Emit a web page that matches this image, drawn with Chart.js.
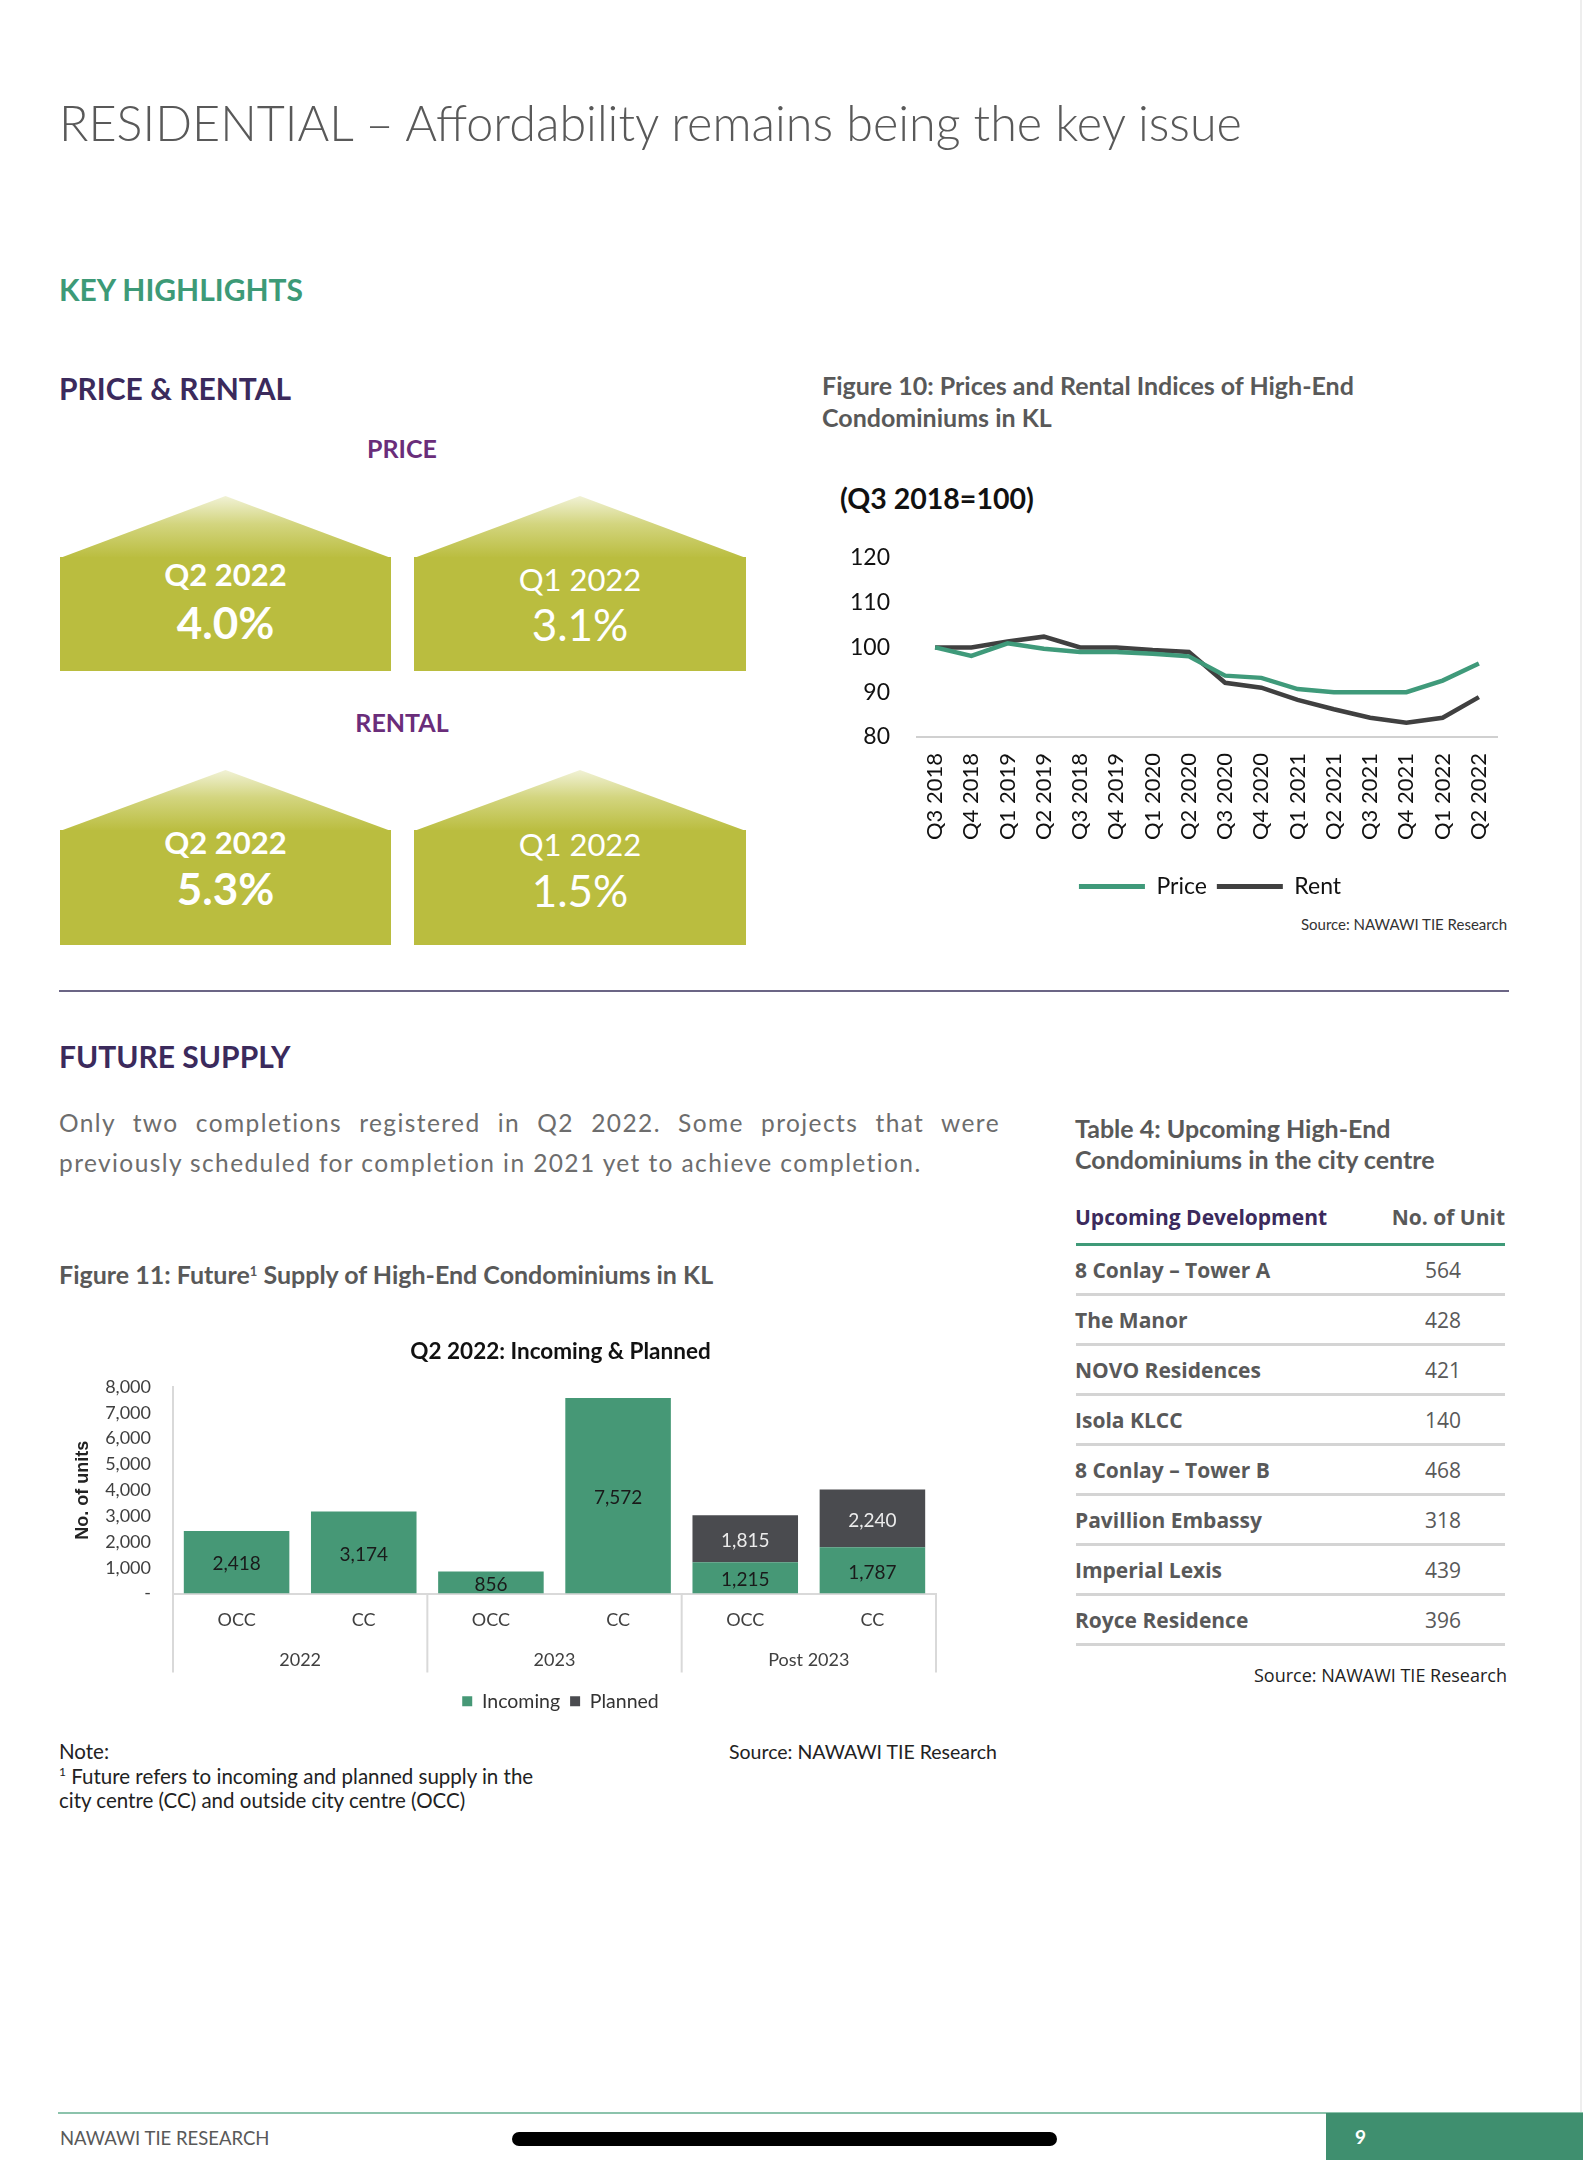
<!DOCTYPE html>
<html>
<head>
<meta charset="utf-8">
<script src="https://cdn.jsdelivr.net/npm/chart.js@4.4.0/dist/chart.umd.min.js"></script>
<style>
  html, body { margin: 0; padding: 0; background: #fff; }
  body { width: 1583px; height: 2160px; position: relative; overflow: hidden; font-family: Lato, "Open Sans", sans-serif; }
  .t { position: absolute; white-space: nowrap; line-height: 1.2; }
  .b { font-weight: bold; }
  .purple { color: #3b2a5c; }
  .grey { color: #595959; }
  .roof { position: absolute; clip-path: polygon(50% 0, 100% 100%, 0 100%);
          background: linear-gradient(to bottom, #f1f2d6 0%, #d3d57f 45%, #babd3f 100%); }
  .body { position: absolute; background: #babd3f; }
  .ht { position: absolute; text-align: center; color: #fff; line-height: 1.2; white-space: nowrap; }
  .tb { position: absolute; font-family: "Open Sans", sans-serif; font-size: 21px; line-height: 1.2; white-space: nowrap; color: #595959; }
  .rule { position: absolute; }
  .sup { position: relative; top: -8px; line-height: 0; }
  canvas { position: absolute; }
</style>
</head>
<body>

<div class="t grey" style="left:59px; top:93px; font-size:48.5px; font-weight:300;">RESIDENTIAL – Affordability remains being the key issue</div>
<div class="t b" style="left:59px; top:271px; font-size:30px; color:#3d9a77;">KEY HIGHLIGHTS</div>
<div class="t b purple" style="left:59px; top:370px; font-size:30px;">PRICE &amp; RENTAL</div>

<div class="t b" style="left:302px; width:200px; text-align:center; top:433px; font-size:25px; color:#6a2d7a;">PRICE</div>
<div class="t b" style="left:302px; width:200px; text-align:center; top:707px; font-size:25px; color:#6a2d7a;">RENTAL</div>

<!-- houses -->
<div class="roof" style="left:60px; top:496px; width:331px; height:62px;"></div>
<div class="body" style="left:60px; top:557px; width:331px; height:114px;"></div>
<div class="roof" style="left:414px; top:496px; width:332px; height:62px;"></div>
<div class="body" style="left:414px; top:557px; width:332px; height:114px;"></div>
<div class="roof" style="left:60px; top:770px; width:331px; height:61px;"></div>
<div class="body" style="left:60px; top:830px; width:331px; height:115px;"></div>
<div class="roof" style="left:414px; top:770px; width:332px; height:61px;"></div>
<div class="body" style="left:414px; top:830px; width:332px; height:115px;"></div>

<div class="ht b" style="left:60px; width:331px; top:556px; font-size:31px;">Q2 2022</div>
<div class="ht b" style="left:60px; width:331px; top:596px; font-size:44px;">4.0%</div>
<div class="ht" style="left:414px; width:332px; top:561px; font-size:31px;">Q1 2022</div>
<div class="ht" style="left:414px; width:332px; top:598px; font-size:44px;">3.1%</div>
<div class="ht b" style="left:60px; width:331px; top:824px; font-size:31px;">Q2 2022</div>
<div class="ht b" style="left:60px; width:331px; top:862px; font-size:44px;">5.3%</div>
<div class="ht" style="left:414px; width:332px; top:826px; font-size:31px;">Q1 2022</div>
<div class="ht" style="left:414px; width:332px; top:864px; font-size:44px;">1.5%</div>

<!-- figure 10 -->
<div class="t b grey" style="left:822px; top:369px; font-size:25px; line-height:32px;">Figure 10: Prices and Rental Indices of High-End<br>Condominiums in KL</div>
<div class="t b" style="left:840px; top:481px; font-size:28.5px; color:#111;">(Q3 2018=100)</div>
<canvas id="lineChart" width="740" height="391" style="left:840px; top:517px; width:740px; height:391px;"></canvas>
<div class="t" style="right:76px; top:915px; font-size:15px; color:#333;">Source: NAWAWI TIE Research</div>

<div class="rule" style="left:59px; top:990px; width:1450px; height:2px; background:#6b6585;"></div>

<!-- future supply -->
<div class="t b purple" style="left:59px; top:1038px; font-size:30px;">FUTURE SUPPLY</div>
<div class="t" style="left:59px; top:1103px; width:941px; font-size:24.5px; line-height:40px; letter-spacing:1.4px; color:#6d6d6d; text-align:justify; text-align-last:justify; white-space:normal;">Only two completions registered in Q2 2022. Some projects that were</div>
<div class="t" style="left:59px; top:1143px; font-size:24.5px; line-height:40px; letter-spacing:1.4px; color:#6d6d6d;">previously scheduled for completion in 2021 yet to achieve completion.</div>

<div class="t b grey" style="left:1075px; top:1113px; font-size:25px; line-height:31px;">Table 4: Upcoming High-End<br>Condominiums in the city centre</div>
<div class="t b grey" style="left:59px; top:1259px; font-size:25px;">Figure 11: Future<span class="sup" style="font-size:13px;">1</span> Supply of High-End Condominiums in KL</div>

<!-- table -->
<div id="table"></div>
<div class="tb" style="right:76px; top:1665px; font-size:18px; color:#222;">Source: NAWAWI TIE Research</div>

<!-- figure 11 -->
<canvas id="barChart" width="983" height="383" style="left:69px; top:1338px; width:983px; height:383px;"></canvas>

<div class="t" style="left:59px; top:1739px; font-size:20.5px; color:#222; line-height:24.5px;">Note:<br><span class="sup" style="font-size:12px;">1</span> Future refers to incoming and planned supply in the<br>city centre (CC) and outside city centre (OCC)</div>
<div class="t" style="left:729px; top:1740px; font-size:19.5px; color:#222;">Source: NAWAWI TIE Research</div>

<!-- footer -->
<div class="rule" style="left:1580px; top:0; width:2px; height:2112px; background:#eeeeee;"></div>
<div class="rule" style="left:58px; top:2112px; width:1525px; height:2px; background:#8cc3ac;"></div>
<div class="rule" style="left:1326px; top:2113px; width:257px; height:47px; background:#3f8f6f;"></div>
<div class="t b" style="left:1355px; top:2126px; font-size:19px; color:#fff;">9</div>
<div class="t grey" style="left:60px; top:2127px; font-size:18.5px;">NAWAWI TIE RESEARCH</div>
<div class="rule" style="left:512px; top:2132px; width:545px; height:14px; border-radius:7px; background:#000;"></div>

<script>
// Figure 10 data
const quarters = ['Q3 2018', 'Q4 2018', 'Q1 2019', 'Q2 2019', 'Q3 2018', 'Q4 2019', 'Q1 2020', 'Q2 2020',
                  'Q3 2020', 'Q4 2020', 'Q1 2021', 'Q2 2021', 'Q3 2021', 'Q4 2021', 'Q1 2022', 'Q2 2022'];
const priceIndex = [100, 98.1, 100.9, 99.7, 99.0, 99.0, 98.6, 98.0, 93.7, 93.2, 90.7, 90.0, 90.0, 90.0, 92.6, 96.4];
const rentIndex  = [100, 100, 101.3, 102.4, 100, 100, 99.4, 99.0, 92.1, 91.0, 88.3, 86.2, 84.3, 83.2, 84.3, 88.9];

// Figure 11 data
const supplyLabels = ['OCC', 'CC', 'OCC', 'CC', 'OCC', 'CC'];
const yearGroups = ['2022', '2023', 'Post 2023'];
const incoming = [2418, 3174, 856, 7572, 1215, 1787];
const planned  = [0, 0, 0, 0, 1815, 2240];

// Table 4 data
const developments = ['8 Conlay – Tower A', 'The Manor', 'NOVO Residences', 'Isola KLCC',
                      '8 Conlay – Tower B', 'Pavillion Embassy', 'Imperial Lexis', 'Royce Residence'];
const units = [564, 428, 421, 140, 468, 318, 439, 396];

// table
const table = document.getElementById('table');
let html = '';
html += '<div class="tb b" style="left:1075px; top:1205px; color:#3b2a5c;">Upcoming Development</div>';
html += '<div class="tb b" style="left:1305px; width:200px; text-align:right; top:1205px;">No. of Unit</div>';
html += '<div class="rule" style="left:1076px; top:1243px; width:429px; height:3px; background:#3f9a78;"></div>';
developments.forEach((name, i) => {
    const c = 1271 + i * 50;
    html += '<div class="tb b" style="left:1075px; top:' + (c - 13) + 'px;">' + name + '</div>';
    html += '<div class="tb" style="left:1393px; width:100px; text-align:center; top:' + (c - 13) + 'px;">' + units[i] + '</div>';
    html += '<div class="rule" style="left:1076px; top:' + (c + 22) + 'px; width:429px; height:3px; background:#d4d4d4;"></div>';
});
table.innerHTML = html;

Chart.defaults.font.family = 'Lato';
Chart.defaults.animation = false;

// line chart
new Chart(document.getElementById('lineChart'), {
    type: 'line',
    data: {
        labels: quarters,
        datasets: [
            { label: 'Price', data: priceIndex, borderColor: '#3f9a7a', backgroundColor: '#3f9a7a', borderWidth: 4.5, pointRadius: 0, tension: 0 },
            { label: 'Rent', data: rentIndex, borderColor: '#404040', backgroundColor: '#404040', borderWidth: 4.5, pointRadius: 0, tension: 0 }
        ]
    },
    options: {
        responsive: false,
        layout: { padding: 0 },
        plugins: {
            tooltip: { enabled: false },
            legend: {
                position: 'bottom',
                labels: {
                    boxWidth: 66,
                    boxHeight: 5,
                    padding: 10,
                    color: '#111',
                    font: { size: 23 },
                    generateLabels: (chart) => chart.data.datasets.map((ds, i) => ({
                        text: ds.label, fillStyle: ds.borderColor, strokeStyle: ds.borderColor,
                        lineWidth: 0, fontColor: '#111', datasetIndex: i, hidden: false
                    }))
                }
            }
        },
        scales: {
            x: {
                offset: true,
                grid: { display: false, drawTicks: false },
                border: { display: true, color: '#d0d0d0', width: 2 },
                ticks: { autoSkip: false, minRotation: 90, maxRotation: 90, padding: 16, color: '#111', font: { size: 22 } },
                afterFit: (s) => { s.height = 128; }
            },
            y: {
                min: 80, max: 120,
                grid: { display: false, drawTicks: false },
                border: { display: false },
                ticks: { stepSize: 10, padding: 27, color: '#111', font: { size: 23 } },
                afterFit: (s) => { s.width = 77; }
            },
            pad: {
                type: 'linear', axis: 'y', position: 'right', display: true,
                grid: { display: false }, border: { display: false }, ticks: { display: false },
                afterFit: (s) => { s.width = 83; }
            }
        }
    }
});

// bar value labels
const barValues = {
    id: 'barValues',
    afterDatasetsDraw(chart) {
        const ctx = chart.ctx;
        ctx.save();
        ctx.font = '19px Lato';
        ctx.textAlign = 'center';
        ctx.textBaseline = 'middle';
        chart.data.datasets.forEach((ds, i) => {
            chart.getDatasetMeta(i).data.forEach((bar, j) => {
                const v = ds.data[j];
                if (!v) return;
                ctx.fillStyle = ds.valueColor;
                ctx.fillText(v.toLocaleString('en-US'), bar.x, (bar.y + bar.base) / 2 + 2);
            });
        });
        ctx.restore();
    }
};

// year groups under the category labels
const groupAxis = {
    id: 'groupAxis',
    afterDraw(chart) {
        const ctx = chart.ctx;
        const x = chart.scales.x;
        const bottom = chart.chartArea.bottom;
        const w = x.width / supplyLabels.length;
        const per = supplyLabels.length / yearGroups.length;
        ctx.save();
        ctx.strokeStyle = '#d9d9d9';
        ctx.lineWidth = 2;
        for (let g = 0; g <= yearGroups.length; g++) {
            const px = x.left + g * per * w;
            ctx.beginPath();
            ctx.moveTo(px, bottom);
            ctx.lineTo(px, bottom + 79);
            ctx.stroke();
        }
        ctx.fillStyle = '#404040';
        ctx.font = '18px Lato';
        ctx.textAlign = 'center';
        ctx.textBaseline = 'middle';
        yearGroups.forEach((name, g) => {
            ctx.fillText(name, x.left + (g + 0.5) * per * w, bottom + 67);
        });
        ctx.restore();
    }
};

new Chart(document.getElementById('barChart'), {
    type: 'bar',
    data: {
        labels: supplyLabels,
        datasets: [
            { label: 'Incoming', data: incoming, backgroundColor: '#469876', valueColor: '#1a1a1a', barPercentage: 0.83, categoryPercentage: 1 },
            { label: 'Planned', data: planned, backgroundColor: '#4a4b4f', valueColor: '#ececec', barPercentage: 0.83, categoryPercentage: 1 }
        ]
    },
    plugins: [barValues, groupAxis],
    options: {
        responsive: false,
        layout: { padding: 0 },
        plugins: {
            tooltip: { enabled: false },
            title: {
                display: true,
                text: 'Q2 2022: Incoming & Planned',
                color: '#111',
                font: { size: 22.5, weight: 'bold' },
                padding: { top: 0, bottom: 22 }
            },
            legend: {
                position: 'bottom',
                labels: { boxWidth: 10, boxHeight: 10, padding: 10, color: '#333', font: { size: 19.5 } }
            }
        },
        scales: {
            x: {
                stacked: true,
                grid: { display: false, drawTicks: false },
                border: { display: true, color: '#d9d9d9', width: 2 },
                ticks: { padding: 16, color: '#404040', font: { size: 18 } },
                afterFit: (s) => { s.height = 88; }
            },
            y: {
                stacked: true,
                min: 0, max: 8000,
                grid: { display: false, drawTicks: false },
                border: { display: true, color: '#d9d9d9', width: 2 },
                ticks: {
                    stepSize: 1000, padding: 22, color: '#404040', font: { size: 18 },
                    callback: (v) => v === 0 ? '-' : v.toLocaleString('en-US')
                },
                title: {
                    display: true, text: 'No. of units', color: '#222',
                    font: { family: 'Liberation Sans', size: 18, weight: 'bold' },
                    padding: { top: 3, bottom: 3 }
                },
                afterFit: (s) => { s.width = 104; }
            },
            pad: {
                type: 'linear', axis: 'y', position: 'right', display: true,
                grid: { display: false }, border: { display: false }, ticks: { display: false },
                afterFit: (s) => { s.width = 116; }
            }
        }
    }
});
</script>
</body>
</html>
